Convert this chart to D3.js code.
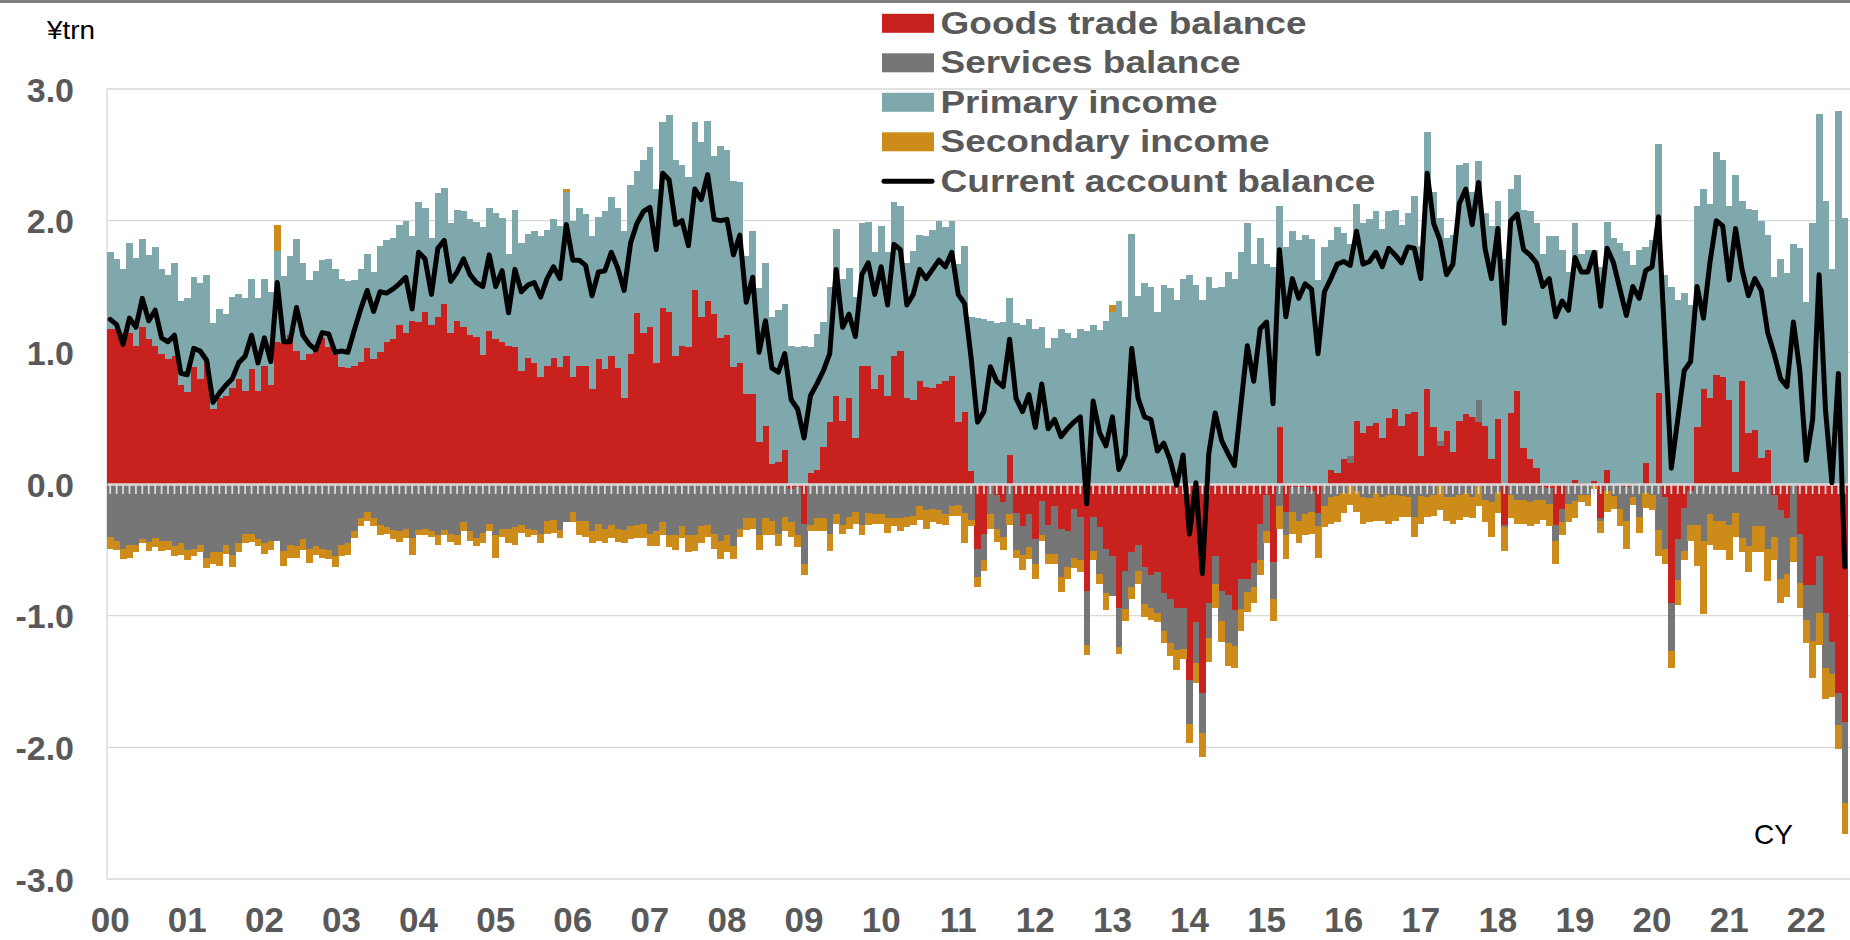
<!DOCTYPE html>
<html><head><meta charset="utf-8">
<script src="https://cdn.jsdelivr.net/npm/d3@7"></script>
<style>
html,body{margin:0;padding:0;background:#fff;}
svg{display:block;font-family:"Liberation Sans",Arial,Helvetica,sans-serif;}
</style></head><body>
<svg id="chart" width="1850" height="940"></svg>
<script>
// ---------- data (¥trn, monthly, Jan 2000 - Jul 2022) ----------
const yearLabels = ["00","01","02","03","04","05","06","07","08","09","10","11","12","13","14","15","16","17","18","19","20","21","22"];
const yTickValues = [-3,-2,-1,0,1,2,3];
const seriesNames = ["Goods trade balance","Services balance","Primary income","Secondary income","Current account balance"];

const goods = [
1.18,1.18,1.15,1.15,1.05,1.19,1.10,1.05,0.99,0.95,
0.97,0.75,0.70,0.89,0.80,0.93,0.57,0.65,0.67,0.73,
0.80,0.71,0.87,0.71,0.90,0.75,1.08,1.07,1.13,1.01,
0.94,0.99,1.05,1.11,1.04,0.99,0.89,0.88,0.90,0.93,
1.03,0.95,1.00,1.08,1.10,1.21,1.15,1.24,1.23,1.31,
1.21,1.27,1.37,1.15,1.24,1.19,1.13,1.12,0.98,1.16,
1.10,1.08,1.05,1.04,0.86,0.96,0.92,0.81,0.90,0.96,
0.89,0.97,0.81,0.90,0.90,0.72,0.95,0.87,0.97,0.88,
0.65,0.99,1.30,1.15,1.19,0.92,1.34,1.31,0.97,1.05,
1.04,1.47,1.27,1.39,1.29,1.11,1.13,0.89,0.92,0.68,
0.68,0.32,0.44,0.15,0.17,0.26,-0.04,-0.02,-0.30,0.08,
0.11,0.28,0.47,0.67,0.48,0.65,0.35,0.90,0.90,0.72,
0.83,0.67,0.97,1.01,0.65,0.64,0.78,0.74,0.73,0.76,
0.78,0.82,0.47,0.55,0.10,-0.49,-0.38,0.00,-0.08,-0.14,
0.22,-0.22,-0.32,-0.23,-0.42,-0.13,-0.31,-0.17,-0.34,-0.36,
-0.19,-0.25,-0.81,-0.25,-0.33,-0.49,-0.55,-0.94,-0.66,-0.52,
-0.46,-0.63,-0.69,-0.67,-0.83,-0.87,-0.94,-0.94,-1.49,-1.05,
-1.59,-0.90,-0.55,-0.81,-0.84,-0.96,-0.72,-0.72,-0.60,-0.30,
-0.08,-0.59,0.43,-0.21,-0.02,-0.02,-0.02,-0.05,-0.22,-0.01,
0.11,0.08,0.19,0.16,0.48,0.39,0.44,0.46,0.35,0.50,
0.57,0.44,0.53,0.55,0.21,0.72,0.43,0.29,0.40,0.24,
0.48,0.53,0.51,0.47,0.44,0.19,0.49,-0.31,0.54,0.71,
0.27,0.19,0.12,-0.02,-0.03,-0.31,-0.19,0.00,0.03,0.01,
0.00,0.02,-0.26,0.11,0.00,0.00,-0.02,0.01,0.00,0.16,
0.00,0.69,-0.10,-0.90,-0.42,-0.18,-0.05,0.43,0.72,0.65,
0.83,0.81,0.64,0.09,0.78,0.39,0.41,0.20,0.26,-0.08,
-0.20,-0.26,0.00,-0.38,-0.77,-0.77,-0.55,-0.98,-1.20,-1.59,
-1.81];

const services = [
-0.40,-0.43,-0.49,-0.46,-0.46,-0.42,-0.44,-0.41,-0.43,-0.43,
-0.47,-0.45,-0.50,-0.49,-0.46,-0.56,-0.52,-0.52,-0.46,-0.54,
-0.45,-0.38,-0.38,-0.42,-0.45,-0.43,-0.43,-0.51,-0.46,-0.47,
-0.42,-0.49,-0.47,-0.49,-0.50,-0.55,-0.46,-0.45,-0.36,-0.26,
-0.21,-0.26,-0.31,-0.33,-0.35,-0.36,-0.34,-0.41,-0.35,-0.34,
-0.36,-0.39,-0.35,-0.38,-0.39,-0.29,-0.36,-0.41,-0.37,-0.30,
-0.39,-0.34,-0.34,-0.33,-0.31,-0.34,-0.35,-0.38,-0.28,-0.27,
-0.35,-0.29,-0.21,-0.28,-0.28,-0.36,-0.30,-0.34,-0.31,-0.34,
-0.35,-0.32,-0.31,-0.30,-0.38,-0.36,-0.29,-0.39,-0.39,-0.32,
-0.39,-0.39,-0.32,-0.31,-0.38,-0.43,-0.39,-0.47,-0.34,-0.26,
-0.26,-0.39,-0.26,-0.28,-0.38,-0.25,-0.25,-0.37,-0.31,-0.31,
-0.26,-0.26,-0.38,-0.23,-0.31,-0.25,-0.21,-0.31,-0.22,-0.23,
-0.23,-0.26,-0.26,-0.26,-0.25,-0.24,-0.17,-0.20,-0.19,-0.20,
-0.23,-0.17,-0.16,-0.22,-0.27,-0.22,-0.20,-0.23,-0.26,-0.26,
-0.23,-0.28,-0.22,-0.25,-0.19,-0.26,-0.22,-0.36,-0.37,-0.27,
-0.37,-0.33,-0.41,-0.26,-0.35,-0.34,-0.30,-0.30,-0.29,-0.26,
-0.20,-0.28,-0.25,-0.31,-0.29,-0.34,-0.32,-0.31,-0.33,-0.31,
-0.30,-0.27,-0.21,-0.23,-0.37,-0.27,-0.23,-0.10,-0.18,-0.28,
-0.28,-0.28,-0.17,-0.18,-0.19,-0.26,-0.21,-0.16,-0.10,-0.16,
-0.10,-0.09,-0.07,0.05,-0.05,-0.10,-0.11,-0.07,-0.10,-0.08,
-0.08,-0.09,-0.10,-0.25,-0.09,-0.10,-0.08,0.04,-0.10,-0.10,
-0.08,-0.07,-0.10,0.17,-0.12,-0.14,-0.06,-0.02,-0.08,-0.12,
-0.12,-0.14,-0.12,-0.10,-0.12,-0.12,-0.10,-0.15,-0.13,-0.08,
-0.08,-0.01,-0.02,-0.05,-0.09,-0.19,-0.26,-0.10,-0.25,-0.07,
-0.08,-0.35,-0.39,-0.37,-0.31,-0.33,-0.26,-0.31,-0.43,-0.23,
-0.28,-0.28,-0.31,-0.22,-0.41,-0.47,-0.32,-0.32,-0.49,-0.32,
-0.52,-0.42,-0.40,-0.37,-0.26,-0.42,-0.43,-0.42,-0.24,-0.24,
-0.61];

const primary = [
0.58,0.53,0.48,0.68,0.67,0.67,0.64,0.75,0.64,0.64,
0.71,0.64,0.71,0.68,0.73,0.66,0.65,0.68,0.62,0.69,
0.64,0.70,0.69,0.70,0.66,0.71,0.69,0.51,0.60,0.85,
0.74,0.56,0.57,0.59,0.67,0.64,0.67,0.66,0.65,0.70,
0.72,0.66,0.81,0.77,0.77,0.76,0.85,0.64,0.91,0.79,
0.66,0.94,0.88,0.83,0.84,0.88,0.88,0.87,0.97,0.94,
0.96,0.94,0.70,1.04,0.97,0.94,1.00,1.07,1.03,1.05,
1.07,1.25,1.19,1.20,1.15,1.16,1.08,1.20,1.21,1.22,
1.27,1.28,1.08,1.31,1.37,1.32,1.41,1.49,1.49,1.37,
1.29,1.28,1.33,1.37,1.20,1.46,1.41,1.41,1.37,1.05,
1.24,1.17,1.24,1.12,1.15,1.11,1.05,1.04,1.05,0.96,
1.03,0.95,1.03,1.27,1.08,0.99,1.07,1.08,1.09,1.04,
1.13,1.09,1.17,1.10,1.03,1.13,1.11,1.14,1.20,1.24,
1.17,1.18,1.20,1.26,1.17,1.26,1.25,1.24,1.22,1.23,
1.19,1.22,1.21,1.25,1.18,1.19,1.03,1.11,1.18,1.15,
1.11,1.18,1.16,1.21,1.17,1.24,1.31,1.39,1.27,1.90,
1.43,1.53,1.50,1.31,1.51,1.49,1.40,1.56,1.59,1.51,
1.40,1.57,1.49,1.50,1.61,1.56,1.76,1.98,1.67,1.87,
1.67,1.65,1.68,1.80,1.92,1.85,1.89,1.86,1.55,1.80,
1.74,1.87,1.72,1.61,1.65,1.59,1.57,1.61,1.59,1.57,
1.51,1.53,1.53,1.64,1.60,1.95,1.79,1.69,1.47,1.65,
1.94,1.91,1.71,1.81,1.62,1.77,1.66,1.71,1.70,1.64,
1.81,1.88,1.86,1.75,1.88,1.88,1.78,1.61,1.95,1.74,
1.78,1.76,1.65,1.88,1.87,1.83,1.77,1.65,1.78,1.64,
1.85,1.89,1.59,1.50,1.40,1.45,1.36,1.68,1.52,1.48,
1.69,1.65,1.47,2.26,1.37,1.70,1.67,1.80,1.63,1.57,
1.71,1.60,1.82,1.79,1.38,1.98,2.81,2.15,1.63,2.83,
2.02];

const secondary = [
-0.09,-0.07,-0.08,-0.10,-0.06,-0.03,-0.07,-0.07,-0.08,-0.07,
-0.08,-0.09,-0.08,-0.06,-0.06,-0.08,-0.09,-0.10,-0.07,-0.09,
-0.07,-0.07,-0.06,-0.05,-0.08,-0.07,0.20,-0.11,-0.10,-0.09,
-0.08,-0.11,-0.07,-0.07,-0.07,-0.08,-0.09,-0.09,-0.05,-0.06,
-0.07,-0.06,-0.08,-0.05,-0.07,-0.08,-0.07,-0.13,-0.04,-0.05,
-0.04,-0.07,-0.04,-0.06,-0.07,-0.07,-0.07,-0.06,-0.08,-0.06,
-0.17,-0.06,-0.11,-0.13,-0.06,-0.06,-0.04,-0.07,-0.10,-0.10,
-0.06,0.02,-0.08,-0.11,-0.12,-0.09,-0.13,-0.11,-0.10,-0.10,
-0.10,-0.10,-0.10,-0.11,-0.09,-0.11,-0.10,-0.09,-0.11,-0.09,
-0.13,-0.12,-0.13,-0.09,-0.11,-0.14,-0.13,-0.10,-0.06,-0.09,
-0.08,-0.11,-0.13,-0.11,-0.09,-0.11,-0.11,-0.09,-0.08,-0.05,
-0.10,-0.10,-0.13,-0.07,-0.07,-0.09,-0.09,-0.08,-0.09,-0.07,
-0.07,-0.11,-0.06,-0.10,-0.08,-0.07,-0.10,-0.14,-0.10,-0.10,
-0.08,-0.07,-0.08,-0.23,-0.05,-0.07,-0.08,-0.11,-0.10,-0.10,
-0.08,-0.06,-0.11,-0.09,-0.11,-0.04,-0.08,-0.08,-0.11,-0.09,
-0.08,-0.09,-0.08,-0.07,-0.08,-0.13,0.05,-0.05,-0.09,-0.09,
-0.10,-0.10,-0.09,-0.07,-0.09,-0.10,-0.15,-0.08,-0.15,-0.15,
-0.18,-0.18,-0.18,-0.16,-0.17,-0.17,-0.17,-0.15,-0.12,-0.11,
-0.09,-0.17,-0.17,-0.18,-0.17,-0.17,-0.16,-0.17,-0.24,-0.16,
-0.20,-0.20,-0.15,-0.16,-0.16,-0.20,-0.18,-0.21,-0.18,-0.22,
-0.20,-0.16,-0.15,-0.15,-0.21,-0.15,-0.16,-0.20,-0.18,-0.20,
-0.19,-0.18,-0.16,-0.17,-0.17,-0.26,-0.16,-0.18,-0.18,-0.18,
-0.18,-0.18,-0.18,-0.15,-0.17,-0.18,-0.10,-0.14,-0.13,-0.06,
-0.09,-0.03,-0.09,-0.16,-0.10,-0.13,-0.21,-0.06,-0.12,-0.11,
-0.12,-0.20,-0.12,-0.13,-0.19,-0.07,-0.12,-0.31,-0.56,-0.23,
-0.22,-0.22,-0.27,-0.18,-0.11,-0.20,-0.20,-0.20,-0.25,-0.18,
-0.18,-0.18,-0.19,-0.19,-0.18,-0.28,-0.24,-0.23,-0.18,-0.18,
-0.24];

const current = [
1.25,1.21,1.06,1.26,1.19,1.41,1.24,1.32,1.11,1.08,
1.13,0.84,0.83,1.03,1.01,0.94,0.62,0.69,0.75,0.80,
0.92,0.97,1.13,0.92,1.11,0.93,1.53,1.08,1.08,1.34,
1.13,1.06,1.02,1.15,1.14,1.00,1.01,1.00,1.17,1.33,
1.47,1.31,1.46,1.45,1.48,1.52,1.57,1.33,1.76,1.71,
1.44,1.79,1.85,1.54,1.61,1.71,1.59,1.53,1.50,1.74,
1.50,1.62,1.30,1.63,1.46,1.51,1.53,1.42,1.56,1.65,
1.56,1.97,1.70,1.70,1.66,1.43,1.61,1.62,1.76,1.64,
1.47,1.83,1.98,2.07,2.10,1.78,2.36,2.31,1.97,2.00,
1.81,2.24,2.16,2.35,2.01,2.00,2.01,1.74,1.89,1.38,
1.57,1.00,1.24,0.88,0.85,0.99,0.64,0.57,0.35,0.67,
0.76,0.86,0.99,1.63,1.19,1.29,1.12,1.59,1.68,1.44,
1.65,1.36,1.82,1.78,1.36,1.44,1.63,1.56,1.63,1.70,
1.65,1.76,1.44,1.37,0.96,0.47,0.55,0.89,0.78,0.74,
1.10,0.65,0.55,0.68,0.43,0.76,0.42,0.49,0.36,0.42,
0.47,0.51,-0.15,0.63,0.39,0.29,0.51,0.11,0.22,1.03,
0.65,0.51,0.49,0.25,0.31,0.18,-0.01,0.22,-0.38,0.01,
-0.68,0.23,0.54,0.33,0.23,0.14,0.60,1.05,0.78,1.18,
1.23,0.61,1.78,1.27,1.56,1.41,1.52,1.48,0.99,1.46,
1.56,1.67,1.69,1.66,1.92,1.67,1.69,1.76,1.65,1.79,
1.74,1.68,1.80,1.79,1.56,2.36,1.98,1.85,1.59,1.67,
2.13,2.24,1.97,2.29,1.79,1.56,1.94,1.22,2.00,2.05,
1.78,1.74,1.68,1.50,1.56,1.27,1.39,1.32,1.72,1.61,
1.61,1.76,1.35,1.79,1.68,1.48,1.28,1.50,1.41,1.62,
1.65,2.03,1.08,0.12,0.49,0.86,0.93,1.50,1.26,1.68,
2.00,1.96,1.55,1.94,1.63,1.43,1.56,1.47,1.15,0.99,
0.80,0.74,1.23,0.86,0.18,0.49,1.59,0.56,0.01,0.84,
-0.63];

// ---------- build ----------
const months = goods.map((_, i) => (2000 + Math.floor(i / 12)) + "-" + String(i % 12 + 1).padStart(2, "0"));
const keys = ["goods", "services", "primary", "secondary"];
const colors = {goods: "#C9211E", services: "#767676", primary: "#7FA8AC", secondary: "#CD8B1A"};
const rows = months.map((m, i) => ({month: m, goods: goods[i], services: services[i], primary: primary[i], secondary: secondary[i]}));

const svg = d3.select("#chart");
const FONT = '"Liberation Sans",Arial,Helvetica,sans-serif';
const LABEL_GRAY = "#595959";
const GRID = "#d9d9d9";

const x = d3.scaleBand().domain(months).range([107, 1848]).padding(0);
const y = d3.scaleLinear().domain([-3, 3]).range([879, 89]);

// top grey strip
svg.append("rect").attr("x", 0).attr("y", 0).attr("width", 1850).attr("height", 3).attr("fill", "#808080");

// gridlines
svg.append("g").selectAll("line").data(yTickValues.filter(v => v !== 0))
  .join("line")
  .attr("x1", 107).attr("x2", 1850)
  .attr("y1", d => y(d)).attr("y2", d => y(d))
  .attr("stroke", GRID).attr("stroke-width", 1.4);
// left border
svg.append("line").attr("x1", 107).attr("x2", 107).attr("y1", y(3)).attr("y2", y(-3))
  .attr("stroke", GRID).attr("stroke-width", 1.4);

// stacked bars
const stacked = d3.stack().keys(keys).offset(d3.stackOffsetDiverging)(rows);
svg.append("g").attr("shape-rendering", "crispEdges")
  .selectAll("g").data(stacked).join("g")
  .attr("fill", s => colors[s.key])
  .selectAll("rect").data(s => s).join("rect")
  .attr("x", d => x(d.data.month))
  .attr("width", x.bandwidth() + 0.3)
  .attr("y", d => y(Math.max(d[0], d[1])))
  .attr("height", d => Math.abs(y(d[0]) - y(d[1])));

// zero axis with ticks
const zeroAxis = svg.append("g").attr("transform", `translate(0,${y(0)})`)
  .call(d3.axisBottom(x).tickSize(10).tickSizeOuter(0).tickFormat(""));
zeroAxis.select(".domain").attr("stroke", GRID).attr("stroke-width", 2.6);
zeroAxis.selectAll(".tick line").attr("stroke", GRID).attr("stroke-width", 1.8);

// y axis labels
const yAxis = svg.append("g").attr("transform", "translate(107,0)")
  .call(d3.axisLeft(y).tickValues(yTickValues).tickFormat(d => d.toFixed(1)).tickSize(0).tickPadding(33));
yAxis.select(".domain").remove();
yAxis.selectAll("text").attr("font-family", FONT).attr("font-size", 34).attr("font-weight", "bold")
  .attr("fill", LABEL_GRAY).attr("dy", "0.36em");

// x axis year labels
const xAxis = svg.append("g").attr("transform", "translate(0,879)")
  .call(d3.axisBottom(x)
    .tickValues(months.filter(m => m.endsWith("-01")))
    .tickFormat(m => yearLabels[+m.slice(0, 4) - 2000])
    .tickSize(0).tickPadding(28));
xAxis.select(".domain").remove();
xAxis.selectAll("text").attr("font-family", FONT).attr("font-size", 35).attr("font-weight", "bold")
  .attr("fill", LABEL_GRAY);

// current account line
const line = d3.line().x((d, i) => x(months[i]) + x.bandwidth() / 2).y(d => y(d));
svg.append("path").datum(current).attr("d", line)
  .attr("fill", "none").attr("stroke", "#000").attr("stroke-width", 5)
  .attr("stroke-linejoin", "round").attr("stroke-linecap", "round");

// legend
const legendColors = [colors.goods, colors.services, colors.primary, colors.secondary, "#000"];
const legendWidths = [366, 300, 277, 329, 435];
const lg = svg.append("g");
seriesNames.forEach((name, i) => {
  const cy = 23.3 + i * 39.5;
  if (i < 4) {
    lg.append("rect").attr("x", 882).attr("y", cy - 9.5).attr("width", 52).attr("height", 19).attr("fill", legendColors[i]);
  } else {
    lg.append("line").attr("x1", 884).attr("x2", 932).attr("y1", cy).attr("y2", cy)
      .attr("stroke", "#000").attr("stroke-width", 5).attr("stroke-linecap", "round");
  }
  lg.append("text").attr("x", 940.5).attr("y", cy + 10.5)
    .attr("font-family", FONT).attr("font-size", 32).attr("font-weight", "bold").attr("fill", LABEL_GRAY)
    .attr("textLength", legendWidths[i]).attr("lengthAdjust", "spacingAndGlyphs")
    .text(name);
});

// unit and CY labels
svg.append("text").attr("x", 47).attr("y", 38.5).attr("font-family", FONT).attr("font-size", 25)
  .attr("fill", "#000").attr("textLength", 48).attr("lengthAdjust", "spacingAndGlyphs").text("¥trn");
svg.append("text").attr("x", 1754).attr("y", 844).attr("font-family", FONT).attr("font-size", 28)
  .attr("fill", "#000").text("CY");
</script>
</body></html>
